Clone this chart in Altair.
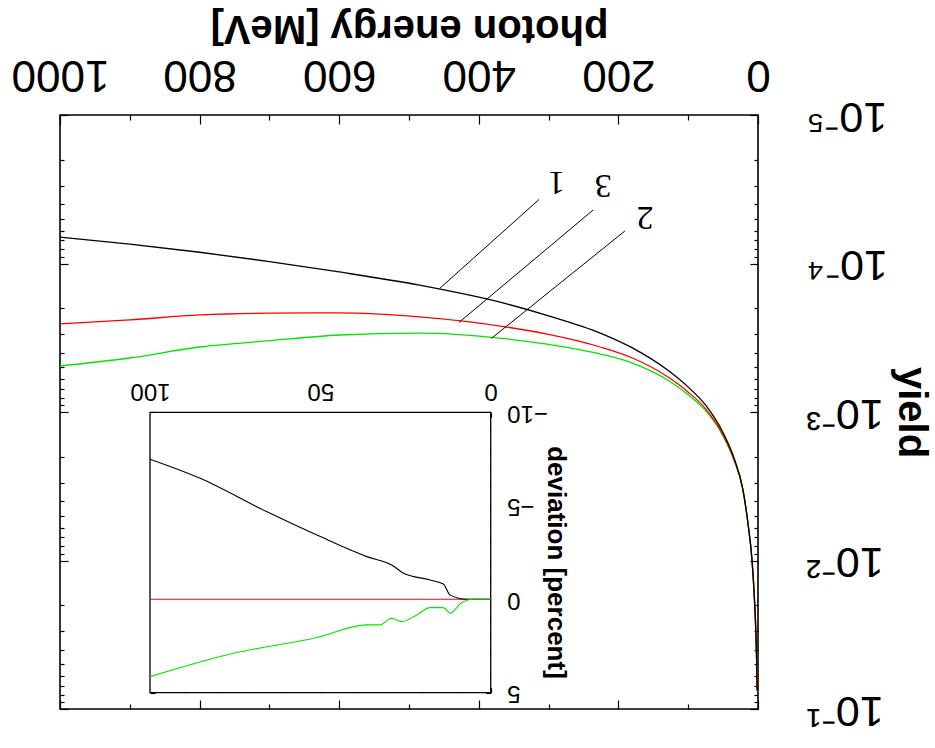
import altair as alt
import pandas as pd

# ---------------- main spectrum: photon energy [MeV] vs yield ----------------
E_1 = [1.2, 2, 3, 5, 8.6, 14, 21.5, 35, 50, 75, 100, 130, 180, 226, 300, 360, 485, 600, 700, 800, 900, 1000]
Y_1 = [0.075, 0.046, 0.031, 0.0185, 0.0099, 0.0058, 0.00335, 0.0020, 0.00138, 0.00090, 0.00068, 0.00052,
       0.00037, 0.000294, 0.000225, 0.000187, 0.00014, 0.000114, 0.000097, 0.000084, 0.000074, 0.0000664]
E_3 = [1.2, 2, 3, 5, 8.6, 14, 21.5, 35, 50, 75, 100, 130, 180, 226, 300, 360, 485, 600, 700, 800, 900, 1000]
Y_3 = [0.075, 0.046, 0.031, 0.0185, 0.0099, 0.0058, 0.00336, 0.00205, 0.001427, 0.000952, 0.000735, 0.000577,
       0.000433, 0.000365, 0.000300, 0.000268, 0.000229, 0.000215, 0.000216, 0.000222, 0.000240, 0.000255]
E_2 = [1.2, 2, 3, 5, 8.6, 14, 21.5, 35, 50, 75, 100, 130, 180, 226, 300, 360, 485, 600, 700, 800, 900, 1000]
Y_2 = [0.075, 0.046, 0.031, 0.0185, 0.0099, 0.00583, 0.00338, 0.00208, 0.001456, 0.00098, 0.000765, 0.000606,
       0.000468, 0.000407, 0.000351, 0.000322, 0.000294, 0.000303, 0.000331, 0.000365, 0.000433, 0.00049]

# ---------------- inset: deviation [percent] ----------------
dX_1 = [0, 7, 11.9, 13.9, 17.8, 25.6, 28.6, 36.4, 50, 65.8, 85.3, 100]
dV_1 = [0, 0, -0.22, -0.81, -1.03, -1.39, -1.78, -2.28, -3.35, -4.69, -6.47, -7.49]
dX_2 = [0, 5.1, 8.5, 11.9, 13.9, 17.8, 21.7, 26.1, 29.1, 32.5, 36.4, 51, 75.5, 100]
dV_2 = [0, 0, 0.18, 0.75, 0.45, 0.45, 0.84, 1.2, 1.02, 1.37, 1.37, 2.05, 2.89, 4.14]
dX_3 = [0, 100]
dV_3 = [0, 0]

# ---------------- annotations ----------------
ann_labels = ["1", "3", "2"]
ann_text_E = [288.6, 221.8, 162.0]
ann_text_Y = [2.81e-5, 2.96e-5, 4.84e-5]
ann_E1 = [313.5, 236.1, 190.7]
ann_Y1 = [3.70e-5, 4.36e-5, 6.04e-5]
ann_E2 = [455.9, 428.2, 381.8]
ann_Y2 = [1.47e-4, 2.49e-4, 3.19e-4]

# ---------------- ticks ----------------
x_major = [0, 200, 400, 600, 800, 1000]
x_minor = [100, 300, 500, 700, 900]
y_major = [1e-5, 1e-4, 1e-3, 1e-2, 1e-1]
y_labels = ["10⁻⁵", "10⁻⁴", "10⁻³", "10⁻²", "10⁻¹"]
y_minor = [m * 10.0 ** k for k in range(-5, -1) for m in range(2, 10)]
ix_major = [0, 50, 100]
ix_minor = [10, 20, 30, 40, 60, 70, 80, 90]
iy_major = [-10, -5, 0, 5]
iy_minor = [-9, -8, -7, -6, -4, -3, -2, -1, 1, 2, 3, 4]

series = ["1", "2", "3"]
colors = ["#000000", "#00e600", "#ff0000"]

W, H = 698, 594
main_x_dom = [0, 1000]
main_y_dom = [1e-5, 1e-1]
ins_x_dom = [0, 100]
ins_y_dom = [-10, 5]
ins_x_rng = [430.7, 90]
ins_y_rng = [297.3, 577.7]

df1 = pd.DataFrame({"E": E_1, "Y": Y_1, "s": "1"})
df2 = pd.DataFrame({"E": E_2, "Y": Y_2, "s": "2"})
df3 = pd.DataFrame({"E": E_3, "Y": Y_3, "s": "3"})
main = pd.concat([df1, df2, df3])
ins = pd.concat([
    pd.DataFrame({"X": dX_3, "V": dV_3, "s": "3"}),
    pd.DataFrame({"X": dX_1, "V": dV_1, "s": "1"}),
    pd.DataFrame({"X": dX_2, "V": dV_2, "s": "2"}),
])
ann = pd.DataFrame({"lab": ann_labels, "tE": ann_text_E, "tY": ann_text_Y,
                    "E1": ann_E1, "Y1": ann_Y1, "E2": ann_E2, "Y2": ann_Y2})
frame = pd.DataFrame({"x0": [ins_x_dom[0]], "x1": [ins_x_dom[1]],
                      "y0": [ins_y_dom[0]], "y1": [ins_y_dom[1]]})


def XM():
    return alt.Scale(domain=main_x_dom, range=[W, 0], nice=False, zero=False)


def YM():
    return alt.Scale(type="log", domain=main_y_dom, range=[0, H], nice=False)


def XI():
    return alt.Scale(domain=ins_x_dom, range=ins_x_rng, nice=False, zero=False)


def YI():
    return alt.Scale(domain=ins_y_dom, range=ins_y_rng, nice=False, zero=False)


color = alt.Color("s:N", scale=alt.Scale(domain=series, range=colors), legend=None)

ylab_expr = "'" + y_labels[-1] + "'"
for v, lab in reversed(list(zip(y_major, y_labels))[:-1]):
    ylab_expr = f"abs(datum.value - {v}) < {v * 0.01} ? '{lab}' : ({ylab_expr})"


def bare(orient, values, size, offset):
    return alt.Axis(orient=orient, values=values, tickSize=size, offset=offset,
                    labels=False, title=None)


def curve(df):
    return alt.Chart(df).mark_line(strokeWidth=1.3, interpolate="monotone").encode(
        x=alt.X("E:Q", scale=XM(), axis=None),
        y=alt.Y("Y:Q", scale=YM(), axis=None),
        color=color, order="E:Q",
    )


# labelled main axes (invisible carrier)
l_axes = alt.Chart(main).mark_point(opacity=0).encode(
    x=alt.X("E:Q", scale=XM(), axis=alt.Axis(
        orient="top", values=x_major, tickSize=9, offset=-9, format="d",
        labelAngle=180, labelAlign="center", labelBaseline="top", labelFontSize=44,
        labelPadding=20, title="photon energy [MeV]", titleAngle=180,
        titleBaseline="top", titleFontSize=40, titleFontWeight="bold", titlePadding=4)),
    y=alt.Y("Y:Q", scale=YM(), axis=alt.Axis(
        orient="right", values=y_major, tickSize=8, offset=-8, labelExpr=ylab_expr,
        labelAngle=180, labelAlign="right", labelBaseline="middle", labelFontSize=43,
        labelPadding=48, title="yield", titleAngle=90, titleBaseline="bottom",
        titleFontSize=40, titleFontWeight="bold", titlePadding=3)),
)
l_main2 = alt.Chart(main).mark_point(opacity=0).encode(
    x=alt.X("E:Q", scale=XM(), axis=bare("bottom", x_major, 9, -9)),
    y=alt.Y("Y:Q", scale=YM(), axis=bare("left", y_major, 8, -8)),
)
l_main3 = alt.Chart(main).mark_point(opacity=0).encode(
    x=alt.X("E:Q", scale=XM(), axis=bare("top", x_minor, 5, -5)),
    y=alt.Y("Y:Q", scale=YM(), axis=bare("right", y_minor, 4, -4)),
)
l_main4 = alt.Chart(main).mark_point(opacity=0).encode(
    x=alt.X("E:Q", scale=XM(), axis=bare("bottom", x_minor, 5, -5)),
    y=alt.Y("Y:Q", scale=YM(), axis=bare("left", y_minor, 4, -4)),
)

# annotations
l_rules = alt.Chart(ann).mark_rule(color="black", strokeWidth=1).encode(
    x=alt.X("E1:Q", scale=XM(), axis=None), x2="E2:Q",
    y=alt.Y("Y1:Q", scale=YM(), axis=None), y2="Y2:Q",
)
l_text = alt.Chart(ann).mark_text(font="Liberation Serif", fontSize=34, angle=180,
                                  align="center", baseline="middle", color="black").encode(
    x=alt.X("tE:Q", scale=XM(), axis=None),
    y=alt.Y("tY:Q", scale=YM(), axis=None),
    text="lab:N",
)

# inset
t_in = 5
t_in_m = 3
ix_top = -(ins_y_rng[0] + t_in)
ix_bot = -(H - ins_y_rng[1] + t_in)
iy_right = -(W - ins_x_rng[0] + t_in)
iy_left = -(ins_x_rng[1] + t_in)

l_frame = alt.Chart(frame).mark_rect(fill="white", stroke="black", strokeWidth=1.3).encode(
    x=alt.X("x0:Q", scale=XI(), axis=None), x2="x1:Q",
    y=alt.Y("y0:Q", scale=YI(), axis=None), y2="y1:Q",
)
l_ins = alt.Chart(ins).mark_line(strokeWidth=1.1, interpolate="monotone").encode(
    x=alt.X("X:Q", scale=XI(), axis=alt.Axis(
        orient="top", values=ix_major, tickSize=t_in, offset=ix_top, format="d",
        labelAngle=180, labelAlign="center", labelBaseline="top", labelFontSize=24,
        labelPadding=10, title=None)),
    y=alt.Y("V:Q", scale=YI(), axis=alt.Axis(
        orient="right", values=iy_major, tickSize=t_in, offset=iy_right,
        labelAngle=180, labelAlign="right", labelBaseline="middle", labelFontSize=24,
        labelPadding=16, title="deviation [percent]", titleAngle=90, titleBaseline="bottom",
        titleFontSize=26, titleFontWeight="bold", titleX=57, titleY=447)),
    color=color, detail="s:N", order="X:Q",
)
l_ins2 = alt.Chart(frame).mark_point(opacity=0).encode(
    x=alt.X("x0:Q", scale=XI(), axis=bare("bottom", ix_major, t_in, ix_bot)),
    y=alt.Y("y0:Q", scale=YI(), axis=bare("left", iy_major, t_in, iy_left)),
)
l_ins3 = alt.Chart(frame).mark_point(opacity=0).encode(
    x=alt.X("x0:Q", scale=XI(), axis=bare("top", ix_minor, t_in_m, -(ins_y_rng[0] + t_in_m))),
    y=alt.Y("y0:Q", scale=YI(), axis=bare("right", iy_minor, t_in_m, -(W - ins_x_rng[0] + t_in_m))),
)
l_ins4 = alt.Chart(frame).mark_point(opacity=0).encode(
    x=alt.X("x0:Q", scale=XI(), axis=bare("bottom", ix_minor, t_in_m, -(H - ins_y_rng[1] + t_in_m))),
    y=alt.Y("y0:Q", scale=YI(), axis=bare("left", iy_minor, t_in_m, -(ins_x_rng[1] + t_in_m))),
)

chart = alt.layer(
    l_axes, l_main2, l_main3, l_main4,
    curve(df2), curve(df3), curve(df1),
    l_rules, l_text,
    l_frame, l_ins, l_ins2, l_ins3, l_ins4,
).resolve_scale(x="independent", y="independent").resolve_axis(
    x="independent", y="independent"
).properties(
    width=W, height=H,
    autosize=alt.AutoSizeParams(type="none"),
    padding={"left": 60, "top": 115, "right": 177, "bottom": 39},
).configure_view(
    stroke="black", strokeWidth=1.6
).configure_axis(
    grid=False, domain=False, labelFont="Liberation Sans", titleFont="Liberation Sans",
    labelColor="black", titleColor="black", tickColor="black", tickWidth=1.2,
    labelFlush=False, labelOverlap=False,
)

chart.save("out.html", embed_options={"renderer": "svg", "actions": False})
